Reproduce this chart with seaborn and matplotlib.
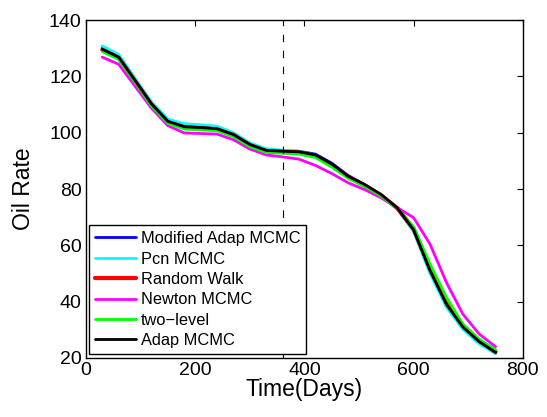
import matplotlib
matplotlib.use("Agg")
import matplotlib.pyplot as plt
import seaborn as sns
import pandas as pd

days = [30, 60, 90, 120, 150, 180, 210, 240, 270, 300, 330, 360, 390,
        420, 450, 480, 510, 540, 570, 600, 630, 660, 690, 720, 750]

modified_adap = [130.0, 127.1, 118.8, 110.5, 104.3, 102.4, 102.0, 101.6, 99.5, 96.0, 93.9, 93.6, 93.4,
                 92.4, 89.2, 84.8, 81.6, 77.9, 73.2, 65.2, 50.6, 38.6, 30.6, 25.4, 21.7]
pcn = [130.8, 127.8, 119.3, 111.0, 104.8, 103.2, 102.8, 102.3, 100.0, 96.4, 94.3, 93.8, 93.4,
       92.0, 88.6, 84.2, 80.9, 77.4, 73.1, 64.8, 50.0, 38.0, 30.2, 25.0, 21.5]
random_walk = [129.4, 126.6, 118.3, 110.0, 103.8, 101.9, 101.6, 101.2, 99.2, 95.6, 93.5, 93.2, 93.0,
               91.8, 88.4, 84.4, 81.3, 77.8, 73.2, 65.8, 51.8, 39.8, 31.5, 26.1, 22.2]
newton = [126.8, 124.3, 116.5, 108.7, 102.5, 99.9, 99.7, 99.5, 97.5, 94.2, 92.1, 91.4, 90.6,
          88.4, 85.5, 82.2, 79.8, 76.9, 73.4, 69.8, 60.4, 46.8, 35.6, 28.5, 24.0]
two_level = [128.8, 126.0, 117.8, 109.5, 103.3, 101.3, 101.0, 100.7, 98.6, 95.0, 93.0, 92.7, 92.4,
             91.2, 87.8, 83.8, 80.9, 77.5, 73.2, 66.5, 53.3, 41.5, 32.0, 26.7, 22.9]
adap = [129.6, 126.8, 118.5, 110.2, 104.0, 102.1, 101.8, 101.4, 99.3, 95.8, 93.7, 93.4, 93.2,
        92.1, 88.9, 84.5, 81.6, 78.1, 73.3, 65.5, 51.0, 39.0, 31.0, 25.8, 22.0]

series_names = ["Modified Adap MCMC", "Pcn MCMC", "Random Walk", "Newton MCMC", "two\u2212level", "Adap MCMC"]
series_values = [modified_adap, pcn, random_walk, newton, two_level, adap]
colors = ["#0000ff", "#00ffff", "#ff0000", "#ff00ff", "#00ff00", "#000000"]
widths = [2.0, 2.0, 3.0, 2.0, 2.0, 2.0]
split_day = 360

sns.set_style("white")
plt.rcParams['font.family'] = ['Liberation Sans', 'DejaVu Sans']
plt.rcParams['lines.scale_dashes'] = False
plt.rcParams['text.color'] = 'black'
plt.rcParams['axes.labelcolor'] = 'black'
plt.rcParams['xtick.color'] = 'black'
plt.rcParams['ytick.color'] = 'black'

fig = plt.figure(figsize=(5.47, 4.17), dpi=100)
ax = fig.add_axes([0.157, 0.1415, 0.799, 0.8105])

for name, vals, c, lw in zip(series_names, series_values, colors, widths):
    df = pd.DataFrame({"Time": days, "Rate": vals})
    sns.lineplot(data=df, x="Time", y="Rate", ax=ax, color=c, linewidth=lw, label=name)

ax.axvline(split_day, color="black", linestyle=(2.3, (5.4, 6.1)), linewidth=0.8)

ax.set_xlim(0, 800)
ax.set_ylim(20, 140)
ax.set_xticks([0, 200, 400, 600, 800])
ax.set_yticks([20, 40, 60, 80, 100, 120, 140])
ax.tick_params(direction="in", top=True, right=True, labelsize=14, length=4, width=0.8, pad=3,
               colors="black")
for s in ax.spines.values():
    s.set_color("black")
    s.set_linewidth(1.0)
ax.set_xlabel("Time(Days)", fontsize=16.5, labelpad=-1, color="black")
ax.set_ylabel("Oil Rate", fontsize=16.5, labelpad=10, color="black")

leg = ax.legend(loc="lower left", bbox_to_anchor=(0.008, 0.012), fontsize=11.8, frameon=True,
                fancybox=False, framealpha=1, edgecolor="black", handlelength=2.5,
                borderpad=0.35, labelspacing=0.33, handletextpad=0.3, borderaxespad=0)
leg.get_frame().set_linewidth(1.0)
for t in leg.get_texts():
    t.set_color("black")

fig.savefig("out.png", dpi=100)
